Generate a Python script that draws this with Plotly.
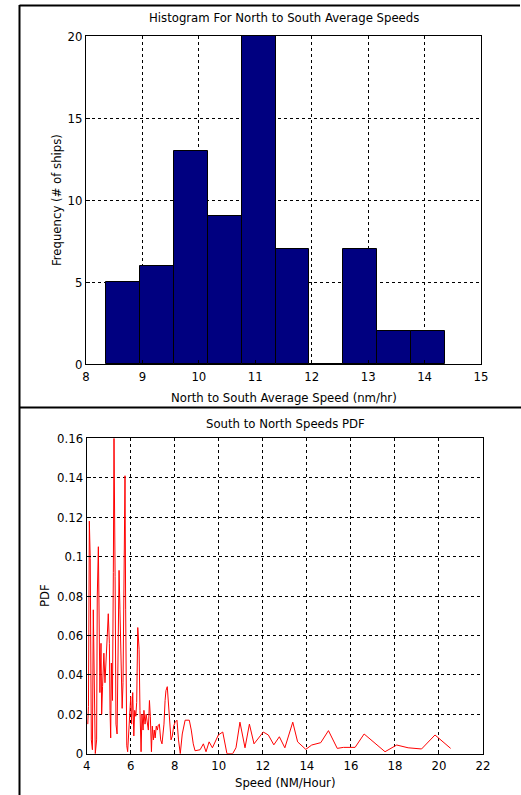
import plotly.graph_objects as go

# ---------------- data ----------------
# Histogram (North to South)
bin_edges = [8.36, 8.96, 9.56, 10.16, 10.76, 11.36, 11.96, 12.56, 13.16, 13.76, 14.36]
counts = [5, 6, 13, 9, 20, 7, 0, 7, 2, 2]
hist_xticks = [8, 9, 10, 11, 12, 13, 14, 15]
hist_yticks = [0, 5, 10, 15, 20]

# PDF (South to North)
pdf_speed = [4.05, 4.08, 4.12, 4.16, 4.21, 4.26, 4.30, 4.35, 4.39, 4.45, 4.48, 4.53,
             4.57, 4.60, 4.65, 4.68, 4.72, 4.78, 4.83, 4.88, 4.93, 4.98, 5.03, 5.06,
             5.09, 5.12, 5.17, 5.21, 5.24, 5.29, 5.33, 5.38, 5.42, 5.47, 5.51, 5.56,
             5.61, 5.65, 5.70, 5.74, 5.77, 5.82, 5.86, 5.91, 5.96, 6.00, 6.04, 6.09,
             6.14, 6.18, 6.23, 6.27, 6.32, 6.38, 6.42, 6.47, 6.51, 6.56, 6.60, 6.65,
             6.70, 6.80, 6.85, 6.89, 6.94, 6.98, 7.03, 7.07, 7.11, 7.16, 7.21, 7.25,
             7.30, 7.36, 7.42, 7.47, 7.51, 7.56, 7.60, 7.66, 7.71, 7.77, 7.83, 7.89,
             7.95, 8.02, 8.10, 8.17, 8.25, 8.34, 8.47, 8.66, 8.75, 8.84, 8.92, 9.15,
             9.30, 9.42, 9.56, 9.71, 9.98, 10.18, 10.37, 10.63, 10.78, 10.96, 11.19,
             11.39, 11.60, 12.02, 12.25, 12.50, 12.75, 13.00, 13.36, 13.58, 13.95,
             14.22, 14.63, 14.98, 15.38, 15.66, 16.19, 16.60, 17.55, 18.08, 18.60,
             19.21, 19.82, 20.53]
pdf_value = [0.015, 0.024, 0.118, 0.099, 0.007, 0.002, 0.073, 0.029, 0.0, 0.007, 0.080, 0.105,
             0.061, 0.031, 0.056, 0.020, 0.034, 0.051, 0.036, 0.053, 0.059, 0.071, 0.056, 0.022,
             0.008, 0.046, 0.027, 0.092, 0.160, 0.090, 0.015, 0.010, 0.046, 0.093, 0.073, 0.042,
             0.023, 0.036, 0.090, 0.141, 0.073, 0.004, 0.001, 0.012, 0.022, 0.029, 0.015, 0.031,
             0.009, 0.022, 0.019, 0.026, 0.064, 0.053, 0.022, 0.001, 0.020, 0.012, 0.022, 0.015,
             0.020, 0.012, 0.027, 0.019, 0.001, 0.014, 0.007, 0.012, 0.008, 0.014, 0.012, 0.0145,
             0.015, 0.007, 0.005, 0.012, 0.015, 0.027, 0.032, 0.034, 0.027, 0.014, 0.007, 0.009,
             0.014, 0.016, 0.017, 0.007, 0.0, 0.010, 0.017, 0.017, 0.012, 0.005, 0.0015, 0.002,
             0.005, 0.001, 0.006, 0.003, 0.0095, 0.011, 0.0, 0.0, 0.003, 0.016, 0.003,
             0.015, 0.005, 0.011, 0.0095, 0.0045, 0.0086, 0.003, 0.016, 0.006, 0.0022,
             0.0044, 0.0056, 0.0117, 0.0027, 0.0032, 0.0032, 0.010, 0.001, 0.0044, 0.003,
             0.0024, 0.0095, 0.0027]
pdf_xticks = [4, 6, 8, 10, 12, 14, 16, 18, 20, 22]
pdf_yticks = [0, 0.02, 0.04, 0.06, 0.08, 0.1, 0.12, 0.14, 0.16]
pdf_yticklabels = ["0", "0.02", "0.04", "0.06", "0.08", "0.1", "0.12", "0.14", "0.16"]

# ---------------- figure ----------------
W, H = 521, 795
FONT = "Liberation Sans Narrow, Arial Narrow, DejaVu Sans Condensed, sans-serif"
FS = 13

def px_x(p):
    return p / W

def px_y(p):
    return 1 - p / H

bin_centers = [(a + b) / 2 for a, b in zip(bin_edges[:-1], bin_edges[1:])]
bin_widths = [b - a for a, b in zip(bin_edges[:-1], bin_edges[1:])]

fig = go.Figure()
fig.add_trace(go.Bar(x=bin_centers, y=counts, width=bin_widths,
                     marker=dict(color="#000080", line=dict(color="black", width=1)),
                     xaxis="x", yaxis="y", showlegend=False))
fig.add_trace(go.Scatter(x=pdf_speed, y=pdf_value, mode="lines",
                         line=dict(color="#ff0000", width=1),
                         xaxis="x2", yaxis="y2", showlegend=False))

axis_common = dict(showgrid=True, gridcolor="black", griddash="3px,3px", gridwidth=1,
                   showline=True, linecolor="black", linewidth=1, mirror=True,
                   ticks="inside", ticklen=4, tickcolor="black", automargin=False,
                   zeroline=False, tickfont=dict(family=FONT, size=FS, color="black"))

fig.update_layout(
    template="none",
    width=W, height=H,
    margin=dict(l=0, r=0, t=0, b=0, pad=0, autoexpand=False),
    paper_bgcolor="white", plot_bgcolor="white",
    bargap=0,
    xaxis=dict(domain=[px_x(86), px_x(481)], range=[8, 15], tickvals=hist_xticks,
               anchor="y", **axis_common),
    yaxis=dict(domain=[px_y(364), px_y(36)], range=[0, 20], tickvals=hist_yticks,
               anchor="x", **axis_common),
    xaxis2=dict(domain=[px_x(86.7), px_x(483)], range=[4, 22], tickvals=pdf_xticks,
                anchor="y2", **axis_common),
    yaxis2=dict(domain=[px_y(753.7), px_y(438.3)], range=[0, 0.16], tickvals=pdf_yticks,
                ticktext=pdf_yticklabels, anchor="x2", **axis_common),
)

ann_font = dict(family=FONT, size=FS, color="black")
annots = [
    ("Histogram For North to South Average Speeds", 283.5, 18, 0),
    ("North to South Average Speed (nm/hr)", 283.5, 397, 0),
    ("Frequency (# of ships)", 57, 200, -90),
    ("South to North Speeds PDF", 285, 423, 0),
    ("Speed (NM/Hour)", 285, 782, 0),
    ("PDF", 44, 596, -90),
]
for text, x, y, ang in annots:
    fig.add_annotation(text=text, x=px_x(x), y=px_y(y), xref="paper", yref="paper",
                       showarrow=False, xanchor="center", yanchor="middle",
                       textangle=ang, font=ann_font)

# outer frame lines
line_style = dict(color="black", width=2)
fig.add_shape(type="line", xref="paper", yref="paper",
              x0=px_x(19.5), x1=px_x(19.5), y0=px_y(5), y1=0, line=line_style)
fig.add_shape(type="line", xref="paper", yref="paper",
              x0=px_x(19.5), x1=px_x(520), y0=px_y(5.5), y1=px_y(5.5), line=line_style)
fig.add_shape(type="line", xref="paper", yref="paper",
              x0=px_x(19.5), x1=1, y0=px_y(407.5), y1=px_y(407.5), line=line_style)

fig.write_html("out.html", config={"displayModeBar": False},
               post_script="document.body.style.margin='0';document.body.style.overflow='hidden';")
